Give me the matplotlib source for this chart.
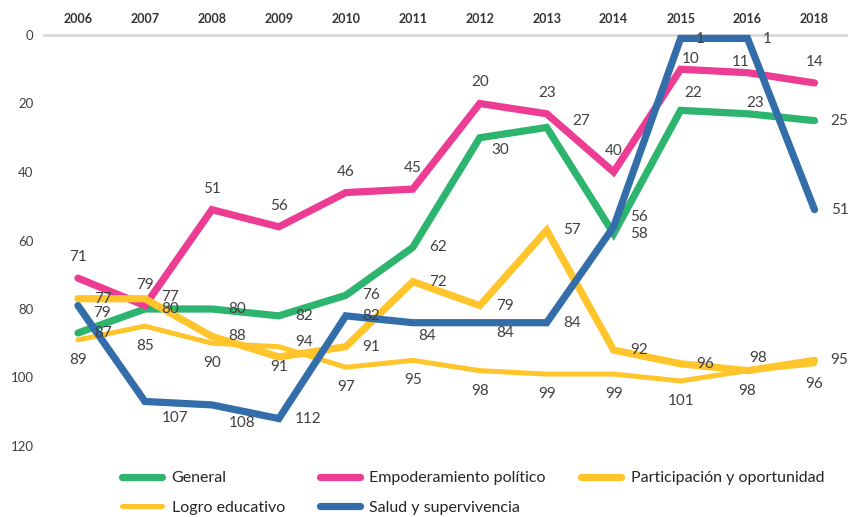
import matplotlib
matplotlib.use("Agg")
import matplotlib.pyplot as plt

plt.rcParams['font.family'] = ['Lato', 'DejaVu Sans']

# datos
years = ["2006", "2007", "2008", "2009", "2010", "2011",
         "2012", "2013", "2014", "2015", "2016", "2018"]
general = [87, 80, 80, 82, 76, 62, 30, 27, 58, 22, 23, 25]
empoderamiento = [71, 79, 51, 56, 46, 45, 20, 23, 40, 10, 11, 14]
participacion = [77, 77, 88, 94, 91, 72, 79, 57, 92, 96, 98, 95]
logro = [89, 85, 90, 91, 97, 95, 98, 99, 99, 101, 98, 96]
salud = [79, 107, 108, 112, 82, 84, 84, 84, 56, 1, 1, 51]

# estilo de cada serie: (nombre, valores, color, grosor, desplazamiento etiqueta)
series = [
    ("General", general, "#2DB46E", 5.2, (25, 0)),
    ("Empoderamiento político", empoderamiento, "#EC3C93", 5.2, (0, 21)),
    ("Participación y oportunidad", participacion, "#FFC52B", 5.2, (25, 0)),
    ("Logro educativo", logro, "#FFC52B", 3.6, (0, -20)),
    ("Salud y supervivencia", salud, "#336EAB", 5.2, (25, 0)),
]

# ajustes puntuales de etiquetas (pixeles, y hacia arriba)
ajustes = {
    ("Empoderamiento político", 9): (10, 10),
    ("Empoderamiento político", 10): (-7, 11),
    ("General", 6): (21, -12),
    ("General", 7): (34, 6),
    ("General", 9): (13, 17),
    ("General", 10): (8, 11),
    ("Salud y supervivencia", 0): (24, -7),
    ("Salud y supervivencia", 1): (30, -17),
    ("Salud y supervivencia", 2): (30, -18),
    ("Salud y supervivencia", 3): (29, 0),
    ("Salud y supervivencia", 5): (14, -13),
    ("Salud y supervivencia", 6): (25, -10),
    ("Salud y supervivencia", 8): (25, 10),
    ("Salud y supervivencia", 9): (20, -1),
    ("Salud y supervivencia", 10): (20, -1),
    ("Participación y oportunidad", 1): (25, 2),
    ("Participación y oportunidad", 3): (25, 15),
    ("Participación y oportunidad", 10): (11, 13),
}

fig = plt.figure(figsize=(8.48, 5.17), dpi=100)
ax = fig.add_axes([44.5 / 848, 1 - 446 / 517, 803.5 / 848, 411 / 517])

x = list(range(len(years)))
lines = {}
for name, vals, color, lw, off in series:
    ln, = ax.plot(x, vals, color=color, lw=lw, solid_capstyle="round",
                  solid_joinstyle="miter", clip_on=False, label=name)
    lines[name] = ln
    for i, v in enumerate(vals):
        dx, dy = ajustes.get((name, i), off)
        ax.annotate(str(v), (i, v), xytext=(dx, dy), textcoords="offset pixels",
                    ha="center", va="center", fontsize=11, color="#404040")

ax.set_xlim(-0.5, len(years) - 0.5)
ax.set_ylim(120, 0)
ax.set_yticks(range(0, 121, 20))
ax.set_xticks(x)
ax.set_xticklabels(years, fontsize=9, fontweight="bold", color="#333333")
ax.xaxis.tick_top()
ax.tick_params(axis="x", length=0, pad=7)
ax.tick_params(axis="y", length=0, pad=8, labelsize=9.5, labelcolor="#404040")

for s in ["left", "right", "bottom"]:
    ax.spines[s].set_visible(False)
ax.spines["top"].set_color("#D9D9D9")
ax.spines["top"].set_linewidth(2)
ax.spines["top"].set_zorder(0)

orden = ["General", "Logro educativo", "Empoderamiento político",
         "Salud y supervivencia", "Participación y oportunidad"]
leg = fig.legend([lines[n] for n in orden], orden, ncol=3, frameon=False,
                 loc="upper left", bbox_to_anchor=(114 / 848, 1 - 463 / 517),
                 fontsize=11.5, handlelength=2.5, handletextpad=0.6,
                 columnspacing=2.2, labelspacing=0.95, borderpad=0)
for t in leg.get_texts():
    t.set_color("#262626")

fig.savefig("out.png", dpi=100)
